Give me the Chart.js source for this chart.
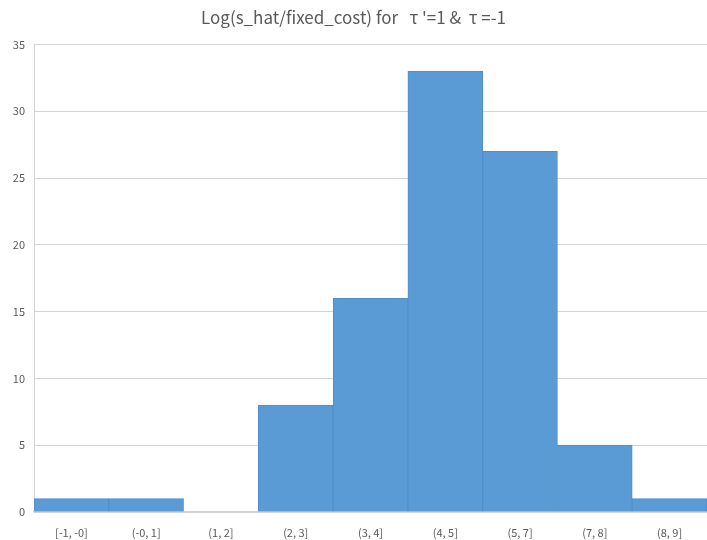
<!DOCTYPE html>
<html>
<head>
<meta charset="utf-8">
<script src="https://cdn.jsdelivr.net/npm/chart.js@4/dist/chart.umd.min.js"></script>
<style>
  html, body { margin: 0; padding: 0; background: #fff; }
  #wrap { width: 707px; height: 540px; }
</style>
</head>
<body>
<div id="wrap"><canvas id="chart" width="707" height="540"></canvas></div>
<script>
// bins of the histogram
const binLabels = ["[-1, -0]", "(-0, 1]", "(1, 2]", "(2, 3]", "(3, 4]", "(4, 5]", "(5, 7]", "(7, 8]", "(8, 9]"];

// counts per bin
const counts = [1, 1, 0, 8, 16, 33, 27, 5, 1];

// y axis ticks
const yMin = 0;
const yMax = 35;
const yStep = 5;

const titleText = "Log(s_hat/fixed_cost) for   \u03c4 '=1 &  \u03c4 =-1";

const fontFamily = "'Noto Sans CJK JP', 'Noto Sans', sans-serif";

const ctx = document.getElementById("chart");

new Chart(ctx, {

    type: "bar",

    data: {
        labels: binLabels,
        datasets: [{
            data: counts,
            backgroundColor: "#5b9bd5",
            borderColor: "#4f8fc9",
            borderWidth: 1,
            barPercentage: 1,
            categoryPercentage: 1
        }]
    },

    options: {
        responsive: false,
        animation: false,
        layout: {
            padding: { left: 0, right: 0, top: 0, bottom: 0 }
        },
        plugins: {
            legend: { display: false },
            tooltip: { enabled: false },
            title: {
                display: true,
                text: titleText,
                color: "#595959",
                font: { family: fontFamily, size: 17, weight: "normal" },
                padding: { top: 7, bottom: 17 }
            }
        },
        scales: {
            x: {
                grid: { display: false },
                border: { color: "#d0d0d0", width: 1.5 },
                ticks: {
                    color: "#595959",
                    font: { family: fontFamily, size: 11 },
                    maxRotation: 0,
                    padding: 6
                },
                afterFit: scale => { scale.height = 28; }
            },
            y: {
                min: yMin,
                max: yMax,
                grid: { color: "#d4d4d4", drawTicks: false },
                border: { color: "#d4d4d4", width: 1 },
                ticks: {
                    stepSize: yStep,
                    color: "#595959",
                    font: { family: fontFamily, size: 11 },
                    padding: 9
                },
                afterFit: scale => { scale.width = 34; }
            }
        }
    }
});
</script>
</body>
</html>
